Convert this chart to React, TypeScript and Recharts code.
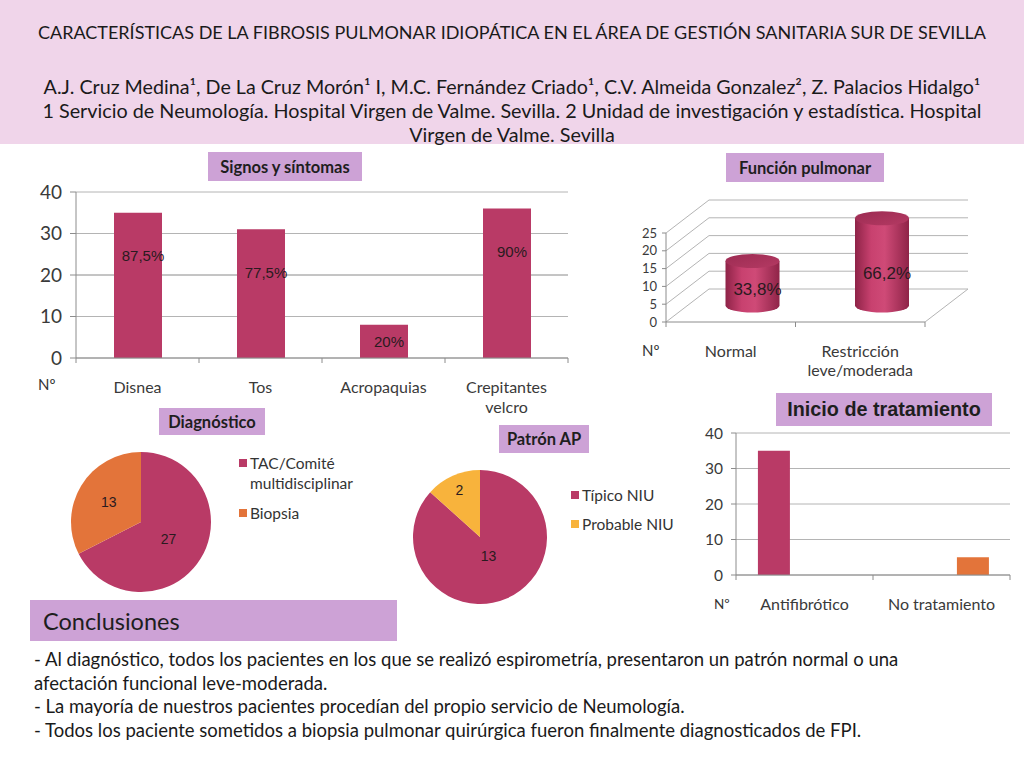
import React from "react";
import {
  BarChart,
  Bar,
  XAxis,
  YAxis,
  CartesianGrid,
  LabelList,
  PieChart,
  Pie,
  Cell,
} from "recharts";

const FONT = "Lato, 'Open Sans', sans-serif";
const ARIAL = "'Liberation Sans', Arial, sans-serif";

const CRIMSON = "#b93a66";
const ORANGE = "#e3743a";
const YELLOW = "#f8b33c";
const LAVENDER = "#cda2d6";
const HEADER_PINK = "#f0d5ea";
const GRID = "#b4b4b4";
const AXIS = "#8c8c8c";
const TICK_TEXT = "#3a3a3a";

// Signos y síntomas
const signosCats = ["Disnea", "Tos", "Acropaquias", "Crepitantes\nvelcro"];
const signosValues = [35, 31, 8, 36];
const signosPct = ["87,5%", "77,5%", "20%", "90%"];
const signosTicks = [0, 10, 20, 30, 40];

// Función pulmonar
const funcionCats = ["Normal", "Restricción\nleve/moderada"];
const funcionValues = [12.5, 24.5];
const funcionPct = ["33,8%", "66,2%"];
const funcionTicks = [0, 5, 10, 15, 20, 25];

// Diagnóstico
const diagNames = ["TAC/Comité multidisciplinar", "Biopsia"];
const diagValues = [27, 13];
const diagColors = [CRIMSON, ORANGE];

// Patrón AP
const patronNames = ["Típico NIU", "Probable NIU"];
const patronValues = [13, 2];
const patronColors = [CRIMSON, YELLOW];

// Inicio de tratamiento
const tratCats = ["Antifibrótico", "No tratamiento"];
const tratAntifib = [35, 0];
const tratNoTrat = [0, 5];
const tratTicks = [0, 10, 20, 30, 40];

const conclusiones = [
  "- Al diagnóstico, todos los pacientes en los que se realizó espirometría, presentaron un patrón normal o una",
  "afectación funcional leve-moderada.",
  "- La mayoría de nuestros pacientes procedían del propio servicio de Neumología.",
  "- Todos los paciente sometidos a biopsia pulmonar quirúrgica fueron finalmente diagnosticados de FPI.",
];

const signosData = signosCats.map((c, i) => ({ cat: c, value: signosValues[i], pct: signosPct[i] }));
const funcionData = funcionCats.map((c, i) => ({ cat: c, value: funcionValues[i], pct: funcionPct[i] }));
const diagData = diagNames.map((n, i) => ({ name: n, value: diagValues[i] }));
const patronData = patronNames.map((n, i) => ({ name: n, value: patronValues[i] }));
const tratData = tratCats.map((c, i) => ({ cat: c, antifib: tratAntifib[i], notrat: tratNoTrat[i] }));

const RADIAN = Math.PI / 180;

function CatTick(props: any) {
  const { x, y, payload, index, bw, count, fontSize, dy, lineH } = props;
  const lines = String(payload.value).split("\n");
  return (
    <g>
      <line x1={x - bw / 2} x2={x - bw / 2} y1={y} y2={y + 5} stroke={AXIS} />
      {index === count - 1 && <line x1={x + bw / 2} x2={x + bw / 2} y1={y} y2={y + 5} stroke={AXIS} />}
      <text x={x} y={y + dy} textAnchor="middle" dominantBaseline="central" fontSize={fontSize} fill={TICK_TEXT} fontFamily={FONT}>
        {lines.map((l, i) => (
          <tspan key={i} x={x} dy={i === 0 ? 0 : lineH}>
            {l}
          </tspan>
        ))}
      </text>
    </g>
  );
}

function TitleBox({ x, y, w, h, text, size, family = FONT, bold = true, align = "center", pad = 0 }: any) {
  return (
    <div
      style={{
        position: "absolute",
        left: x,
        top: y,
        width: w,
        height: h,
        background: LAVENDER,
        display: "flex",
        alignItems: "center",
        justifyContent: align === "center" ? "center" : "flex-start",
        paddingLeft: pad,
        boxSizing: "border-box",
        fontFamily: family,
        fontWeight: bold ? 700 : 400,
        fontSize: size,
        color: "#1e1e1e",
        whiteSpace: "nowrap",
      }}
    >
      {text}
    </div>
  );
}

function Txt({ x, y, size, children, family = FONT, anchor = "left", color = "#333", width }: any) {
  return (
    <div
      style={{
        position: "absolute",
        left: anchor === "center" ? x - width / 2 : x,
        top: y - size * 0.6,
        width: anchor === "center" ? width : undefined,
        textAlign: anchor === "center" ? "center" : "left",
        fontFamily: family,
        fontSize: size,
        lineHeight: `${size * 1.2}px`,
        color,
        whiteSpace: "nowrap",
      }}
    >
      {children}
    </div>
  );
}

// ---------- Signos y síntomas ----------
const S_W = 600, S_H = 270;
const S_M = { top: 42, right: 32, left: 30, bottom: 32 };
const S_YW = 46;
const S_PLOT_W = S_W - S_M.left - S_M.right - S_YW;
const S_PLOT_H = S_H - S_M.top - S_M.bottom - 30;

function SignosChart() {
  const bw = S_PLOT_W / signosCats.length;
  const midY = S_M.top + S_PLOT_H / 2;
  return (
    <div style={{ position: "absolute", left: 0, top: 150 }}>
      <BarChart width={S_W} height={S_H} data={signosData} margin={S_M}>
        <CartesianGrid
          vertical={false}
          horizontal={(p: any) => (
            <line
              key={`h${p.index}`}
              x1={p.x1}
              x2={p.x2}
              y1={p.y1}
              y2={p.y2}
              stroke={Math.abs(p.y1 - midY) < 1 ? "#8a8a8a" : GRID}
            />
          )}
        />
        <XAxis
          dataKey="cat"
          axisLine={{ stroke: AXIS }}
          tickLine={false}
          tickSize={0}
          tickMargin={0}
          interval={0}
          height={30}
          tick={(p: any) => <CatTick {...p} bw={bw} count={signosCats.length} fontSize={16} dy={28} lineH={20} />}
        />
        <YAxis
          width={S_YW}
          domain={[0, 40]}
          ticks={signosTicks}
          interval={0}
          axisLine={{ stroke: AXIS }}
          tickLine={{ stroke: AXIS }}
          tickSize={6}
          tickMargin={8}
          tick={{ fill: TICK_TEXT, fontSize: 19, fontFamily: FONT }}
        />
        <Bar dataKey="value" fill={CRIMSON} barSize={48} isAnimationActive={false}>
          <LabelList
            dataKey="pct"
            content={(p: any) => {
              const vb = p.viewBox || p;
              const x = vb.x ?? p.x, y = vb.y ?? p.y, w = vb.width ?? p.width, h = vb.height ?? p.height;
              return (
                <text
                  x={x + w / 2 + 5}
                  y={y + Math.min(43, h / 2)}
                  textAnchor="middle"
                  dominantBaseline="central"
                  fontSize={15}
                  fontFamily={ARIAL}
                  fill="#2a1a20"
                >
                  {p.value}
                </text>
              );
            }}
          />
        </Bar>
      </BarChart>
    </div>
  );
}

// ---------- Función pulmonar (3D cylinders) ----------
const F_W = 424, F_H = 200;
const F_M = { top: 48, right: 99, left: 26, bottom: 33 };
const F_YW = 40;
const F_PLOT_W = F_W - F_M.left - F_M.right - F_YW;
const F_FLOOR = F_H - F_M.bottom - 30;
const DX = 43, DY = 33;

function Cylinder(p: any) {
  const { x, y, width, height } = p;
  const rx = width / 2, ry = 7;
  const cx = x + rx + DX / 2;
  const yb = y + height - DY / 2;
  const yt = y - DY / 2;
  return (
    <g>
      <path
        d={`M${cx - rx},${yt} L${cx - rx},${yb} A${rx},${ry} 0 0 0 ${cx + rx},${yb} L${cx + rx},${yt} Z`}
        fill="url(#cylBody)"
      />
      <ellipse cx={cx} cy={yt} rx={rx} ry={ry} fill="url(#cylTop)" />
    </g>
  );
}

function FuncionChart() {
  const bw = F_PLOT_W / funcionCats.length;
  return (
    <div style={{ position: "absolute", left: 600, top: 185 }}>
      <BarChart width={F_W} height={F_H} data={funcionData} margin={F_M}>
        <defs>
          <linearGradient id="cylBody" x1="0" y1="0" x2="1" y2="0">
            <stop offset="0%" stopColor="#8e2347" />
            <stop offset="30%" stopColor="#c8416f" />
            <stop offset="55%" stopColor="#cf4a77" />
            <stop offset="100%" stopColor="#8f2448" />
          </linearGradient>
          <linearGradient id="cylTop" x1="0" y1="0" x2="1" y2="1">
            <stop offset="0%" stopColor="#9c2b52" />
            <stop offset="100%" stopColor="#b43a63" />
          </linearGradient>
        </defs>
        <CartesianGrid
          vertical={false}
          horizontal={(p: any) => {
            let d = `M${p.x1},${p.y1} L${p.x1 + DX},${p.y1 - DY} L${p.x2 + DX},${p.y1 - DY}`;
            if (Math.abs(p.y1 - F_FLOOR) < 1) d += ` M${p.x2},${p.y1} L${p.x2 + DX},${p.y1 - DY}`;
            return <path key={`h${p.index}`} d={d} stroke={GRID} fill="none" />;
          }}
        />
        <XAxis
          dataKey="cat"
          axisLine={{ stroke: AXIS }}
          tickLine={false}
          tickSize={0}
          tickMargin={0}
          interval={0}
          height={30}
          tick={(p: any) => <CatTick {...p} bw={bw} count={funcionCats.length} fontSize={16} dy={28} lineH={19} />}
        />
        <YAxis
          width={F_YW}
          domain={[0, 25]}
          ticks={funcionTicks}
          interval={0}
          axisLine={{ stroke: AXIS }}
          tickLine={{ stroke: AXIS }}
          tickSize={4}
          tickMargin={5}
          tick={{ fill: TICK_TEXT, fontSize: 13, fontFamily: FONT }}
        />
        <Bar dataKey="value" barSize={54} shape={Cylinder} isAnimationActive={false}>
          <LabelList
            dataKey="pct"
            content={(p: any) => {
              const vb = p.viewBox || p;
              const x = vb.x ?? p.x, y = vb.y ?? p.y, w = vb.width ?? p.width, h = vb.height ?? p.height;
              return (
                <text
                  x={x + w / 2 + DX / 2 + 5}
                  y={y + h - DY / 2 - h * 0.37}
                  textAnchor="middle"
                  dominantBaseline="central"
                  fontSize={17}
                  fontFamily={ARIAL}
                  fill="#2a1a20"
                >
                  {p.value}
                </text>
              );
            }}
          />
        </Bar>
      </BarChart>
    </div>
  );
}

// ---------- Pies ----------
function makePieLabel(dists: number[]) {
  return (p: any) => {
    const r = p.outerRadius * dists[p.index];
    const x = p.cx + r * Math.cos(-p.midAngle * RADIAN);
    const y = p.cy + r * Math.sin(-p.midAngle * RADIAN);
    return (
      <text key={`l${p.index}`} x={x} y={y} textAnchor="middle" dominantBaseline="central" fontSize={14} fontFamily={ARIAL} fill="#2a1a20">
        {p.value}
      </text>
    );
  };
}

function PieBlock({ left, top, size, r, data, colors, dists }: any) {
  return (
    <div style={{ position: "absolute", left, top }}>
      <PieChart width={size} height={size} margin={{ top: 0, right: 0, bottom: 0, left: 0 }}>
        <Pie
          data={data}
          dataKey="value"
          nameKey="name"
          cx="50%"
          cy="50%"
          outerRadius={r}
          startAngle={90}
          endAngle={-270}
          stroke="none"
          labelLine={false}
          label={makePieLabel(dists)}
          isAnimationActive={false}
        >
          {data.map((_: any, i: number) => (
            <Cell key={i} fill={colors[i]} />
          ))}
        </Pie>
      </PieChart>
    </div>
  );
}

function LegendItem({ x, y, color, lines }: any) {
  return (
    <>
      <div style={{ position: "absolute", left: x, top: y - 4, width: 8, height: 8, background: color }} />
      {lines.map((l: string, i: number) => (
        <Txt key={i} x={x + 11} y={y + i * 20} size={15.5} color="#333">
          {l}
        </Txt>
      ))}
    </>
  );
}

// ---------- Inicio de tratamiento ----------
const T_W = 334, T_H = 200;
const T_M = { top: 13, right: 14, left: 6, bottom: 15 };
const T_YW = 40;
const T_PLOT_W = T_W - T_M.left - T_M.right - T_YW;

function TratChart() {
  const bw = T_PLOT_W / tratCats.length;
  return (
    <div style={{ position: "absolute", left: 690, top: 420 }}>
      <BarChart width={T_W} height={T_H} data={tratData} margin={T_M} barCategoryGap="16%" barGap={30}>
        <CartesianGrid vertical={false} stroke={GRID} />
        <XAxis
          dataKey="cat"
          axisLine={{ stroke: AXIS }}
          tickLine={false}
          tickSize={0}
          tickMargin={0}
          interval={0}
          height={30}
          tick={(p: any) => <CatTick {...p} bw={bw} count={tratCats.length} fontSize={16} dy={28} lineH={19} />}
        />
        <YAxis
          width={T_YW}
          domain={[0, 40]}
          ticks={tratTicks}
          interval={0}
          axisLine={{ stroke: AXIS }}
          tickLine={{ stroke: AXIS }}
          tickSize={5}
          tickMargin={8}
          tick={{ fill: TICK_TEXT, fontSize: 15.5, fontFamily: FONT }}
        />
        <Bar dataKey="antifib" fill={CRIMSON} isAnimationActive={false} />
        <Bar dataKey="notrat" fill={ORANGE} isAnimationActive={false} />
      </BarChart>
    </div>
  );
}

export default function App() {
  return (
    <div
      style={{
        position: "absolute",
        left: 0,
        top: 0,
        width: 1024,
        height: 768,
        background: "#fff",
        overflow: "hidden",
        fontFamily: FONT,
      }}
    >
      <div style={{ position: "absolute", left: 0, top: 0, width: 1024, height: 144, background: HEADER_PINK }} />
      <Txt x={512} y={33} size={18} anchor="center" width={1024} color="#1a1a1a">
        CARACTERÍSTICAS DE LA FIBROSIS PULMONAR IDIOPÁTICA EN EL ÁREA DE GESTIÓN SANITARIA SUR DE SEVILLA
      </Txt>
      <Txt x={512} y={87} size={19.7} anchor="center" width={1024} color="#1a1a1a">
        A.J. Cruz Medina¹, De La Cruz Morón¹ I, M.C. Fernández Criado¹,  C.V. Almeida Gonzalez²,  Z. Palacios Hidalgo¹
      </Txt>
      <Txt x={512} y={111} size={19.8} anchor="center" width={1024} color="#1a1a1a">
        1 Servicio de Neumología. Hospital Virgen de Valme. Sevilla. 2 Unidad de investigación y estadística. Hospital
      </Txt>
      <Txt x={512} y={135} size={19.8} anchor="center" width={1024} color="#1a1a1a">
        Virgen de Valme. Sevilla
      </Txt>

      <SignosChart />
      <TitleBox x={208} y={152} w={154} h={29} text="Signos y síntomas" size={16.5} />
      <Txt x={38} y={384} size={15}>Nº</Txt>

      <FuncionChart />
      <TitleBox x={726} y={153} w={158} h={29} text="Función pulmonar" size={16.5} />
      <Txt x={642} y={350} size={15}>Nº</Txt>

      <PieBlock left={66} top={447} size={150} r={70} data={diagData} colors={diagColors} dists={[0.46, 0.54]} />
      <TitleBox x={159} y={408} w={106} h={27} text="Diagnóstico" size={16.5} />
      <LegendItem x={239} y={463} color={CRIMSON} lines={["TAC/Comité", "multidisciplinar"]} />
      <LegendItem x={239} y={513} color={ORANGE} lines={["Biopsia"]} />

      <PieBlock left={413} top={470} size={134} r={67} data={patronData} colors={patronColors} dists={[0.31, 0.76]} />
      <TitleBox x={499} y={425} w={90} h={28} text="Patrón AP" size={16.5} />
      <LegendItem x={571} y={495} color={CRIMSON} lines={["Típico NIU"]} />
      <LegendItem x={571} y={524} color={YELLOW} lines={["Probable NIU"]} />

      <TratChart />
      <TitleBox x={776} y={393} w={216} h={33} text="Inicio de tratamiento" size={19.8} family={ARIAL} />
      <Txt x={714} y={604} size={13.5}>Nº</Txt>

      <TitleBox x={30} y={600} w={367} h={41} text="Conclusiones" size={23.5} bold={false} align="left" pad={13} />
      {conclusiones.map((line, i) => (
        <Txt key={i} x={34} y={659 + i * 23.7} size={18.5} color="#1a1a1a">
          {line}
        </Txt>
      ))}
    </div>
  );
}
